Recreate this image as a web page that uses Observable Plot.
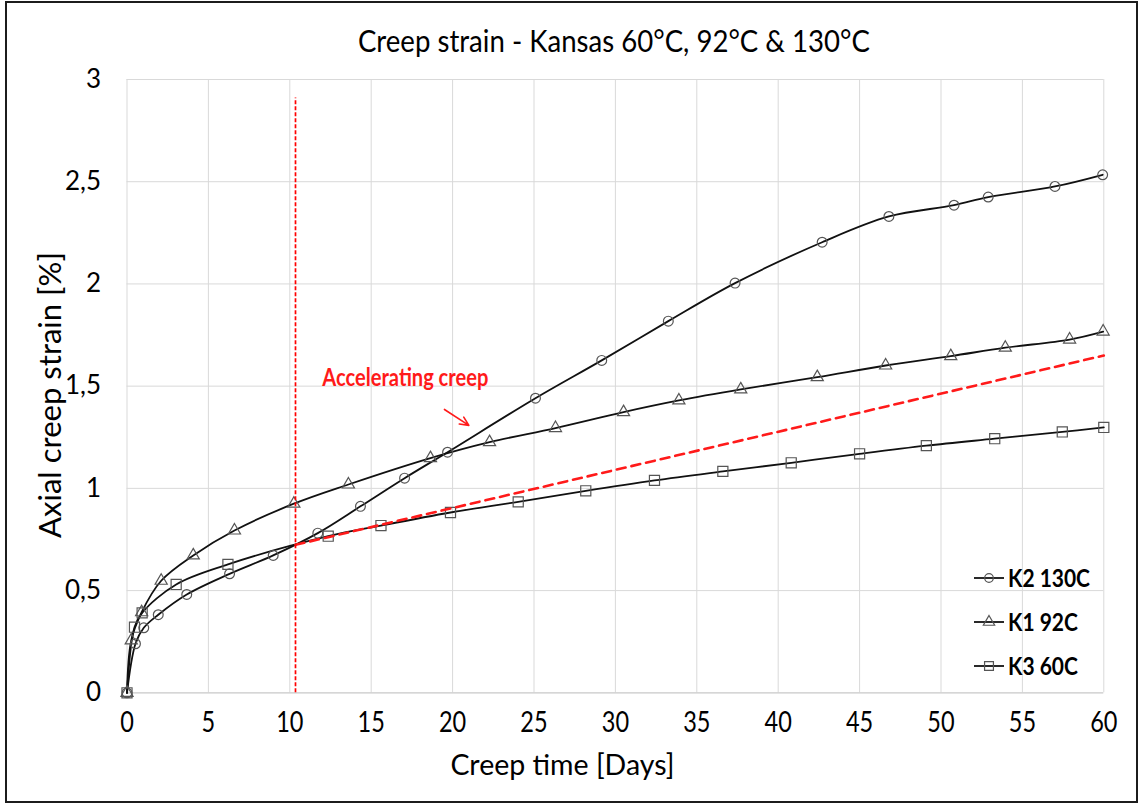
<!DOCTYPE html>
<html>
<head>
<meta charset="utf-8">
<script src="https://cdn.jsdelivr.net/npm/d3@7"></script>
<script src="https://cdn.jsdelivr.net/npm/@observablehq/plot@0.6"></script>
<style>
  html, body { margin: 0; padding: 0; background: #fff; }
  body { width: 1140px; height: 805px; overflow: hidden; position: relative; }
  #frame { position: absolute; left: 5px; top: 1px; width: 1133px; height: 802px; border: 2px solid #1c1c1c; box-sizing: border-box; pointer-events: none; }
  #title { position: absolute; left: 0; top: 0; width: 1228px; height: 60px; text-align: center; line-height: 80px; color: #000; white-space: nowrap; }
  #title span { display: inline-block; transform-origin: 50% 50%; }
  #chart { position: absolute; left: 0; top: 60px; }
  #overlay { position: absolute; left: 0; top: 0; pointer-events: none; }
</style>
</head>
<body>
<div id="title"><span></span></div>
<div id="chart"></div>
<svg id="overlay" width="1140" height="805"></svg>
<div id="frame"></div>
<script>
// ---------- data ----------
const chartTitle = "Creep strain - Kansas 60°C, 92°C & 130°C";
const xLabel = "Creep time [Days]";
const yLabel = "Axial creep strain [%]";
const seriesNames = ["K2 130C", "K1 92C", "K3 60C"];
const seriesSymbols = ["circle", "triangle", "square"];

const k2Days   = [0, 0.52, 1.03, 1.92, 3.67, 6.3, 8.98, 11.72, 14.34, 17.05, 19.69, 25.09, 29.16, 33.25, 37.35, 42.7, 46.8, 50.8, 52.9, 57.0, 59.93];
const k2Strain = [0, 0.24, 0.318, 0.382, 0.481, 0.582, 0.672, 0.781, 0.912, 1.05, 1.177, 1.441, 1.626, 1.818, 2.004, 2.204, 2.33, 2.385, 2.425, 2.477, 2.534];

const k1Days   = [0, 0.26, 0.9, 2.1, 4.07, 6.6, 10.25, 13.6, 18.64, 22.27, 26.32, 30.5, 33.9, 37.7, 42.4, 46.6, 50.6, 53.95, 57.9, 59.96];
const k1Strain = [0, 0.256, 0.394, 0.548, 0.672, 0.794, 0.925, 1.019, 1.148, 1.226, 1.295, 1.373, 1.43, 1.484, 1.544, 1.601, 1.647, 1.688, 1.728, 1.767];

const k3Days   = [0, 0.46, 0.93, 3.02, 6.2, 12.36, 15.6, 19.87, 24.03, 28.18, 32.4, 36.6, 40.8, 45.0, 49.1, 53.3, 57.45, 60];
const k3Strain = [0, 0.321, 0.391, 0.53, 0.628, 0.766, 0.818, 0.882, 0.934, 0.988, 1.039, 1.083, 1.125, 1.169, 1.209, 1.243, 1.276, 1.298];

const trendDays   = [10.35, 60];
const trendStrain = [0.724, 1.65];

const markerDay = 10.35;
const markerTop = 2.91;

const noteText = "Accelerating creep";
const noteDay = 12.0, noteStrain = 1.54;
const arrowDays = [19.5, 21.0];
const arrowStrains = [1.386, 1.308];

const xTicks = [0, 5, 10, 15, 20, 25, 30, 35, 40, 45, 50, 55, 60];
const yTicks = [0, 0.5, 1, 1.5, 2, 2.5, 3];
const yTickLabels = ["0", "0,5", "1", "1,5", "2", "2,5", "3"];

// ---------- tables ----------
const table = (xs, ys) => xs.map((d, i) => ({day: d, strain: ys[i]}));
const k2 = table(k2Days, k2Strain);
const k1 = table(k1Days, k1Strain);
const k3 = table(k3Days, k3Strain);
const trend = table(trendDays, trendStrain);
const seriesData = [k2, k1, k3];

// ---------- fonts ----------
const FAM = 'Lato, sans-serif';
const ctx = document.createElement("canvas").getContext("2d");
function natural(text, size, weight = "normal") {
  ctx.font = `${weight} ${size}px ${FAM}`;
  return ctx.measureText(text).width;
}
// sizes chosen for glyph height; widths squeezed to the reference's narrow face
const fsTitle = 30.5, wTitle = 512;
const fsXTick = 28, xTickSqueeze = 0.84;
const fsYTick = 26;
const fsXLabel = 29.5, wXLabel = 224;
const fsYLabel = 31.5, wYLabel = 286;
const fsLegend = 24, wLegend = 82;
const fsNote = 24, wNote = 166;

const titleSpan = document.querySelector("#title span");
titleSpan.textContent = chartTitle;
titleSpan.style.fontFamily = FAM;
titleSpan.style.fontSize = fsTitle + "px";
titleSpan.style.transform = `scaleX(${wTitle / natural(chartTitle, fsTitle)})`;

// ---------- chart ----------
const LINE = "#111";
const MARK = "#555";
const RED = "#ff1a1a";
const plot = Plot.plot({
  width: 1140,
  height: 745,
  marginLeft: 126.5,
  marginRight: 36.7,
  marginTop: 19,
  marginBottom: 112.7,
  style: {fontFamily: FAM, background: "transparent", color: "#000", overflow: "visible"},
  x: {domain: [0, 60]},
  y: {domain: [0, 3]},
  marks: [
    Plot.gridX(xTicks, {stroke: "#d9d9d9", strokeOpacity: 1, strokeWidth: 1}),
    Plot.gridY(yTicks.slice(1), {stroke: "#d9d9d9", strokeOpacity: 1, strokeWidth: 1}),
    Plot.ruleY([0], {stroke: "#c8c8c8", strokeWidth: 1.3}),
    Plot.axisX(xTicks, {tickSize: 0, tickPadding: 19, fontSize: fsXTick, label: null, fill: "#000", className: "xtick"}),
    Plot.axisY(yTicks, {tickSize: 0, tickPadding: 26, fontSize: fsYTick, label: null, fill: "#000",
      tickFormat: d => yTickLabels[yTicks.indexOf(d)]}),
    Plot.text([xLabel], {frameAnchor: "bottom", dy: 82, dx: -53, fontSize: fsXLabel, fill: "#000", className: "xlabel"}),
    ...seriesData.map(s => Plot.line(s, {x: "day", y: "strain", stroke: LINE, strokeWidth: 1.8, curve: "catmull-rom"})),
    Plot.dot(k2, {x: "day", y: "strain", symbol: "circle", r: 4.9, stroke: MARK, fill: "none", strokeWidth: 1.2}),
    Plot.dot(k1, {x: "day", y: "strain", symbol: "triangle", r: 4.5, stroke: MARK, fill: "none", strokeWidth: 1.2}),
    Plot.dot(k3, {x: "day", y: "strain", symbol: "square", r: 5.7, stroke: MARK, fill: "none", strokeWidth: 1.2}),
    Plot.line(trend, {x: "day", y: "strain", stroke: RED, strokeWidth: 2.6, strokeDasharray: "9,6"}),
    Plot.ruleX([markerDay], {y1: 0, y2: markerTop, stroke: "#ff0000", strokeWidth: 1.7, strokeDasharray: "4,2"}),
    Plot.text([noteText], {x: noteDay, y: noteStrain, textAnchor: "start", fontSize: fsNote, fontWeight: "bold", fill: RED, className: "note"}),
    Plot.arrow([0], {x1: arrowDays[0], y1: arrowStrains[0], x2: arrowDays[1], y2: arrowStrains[1], stroke: RED, strokeWidth: 1.6, headLength: 11, headAngle: 50, bend: 0})
  ]
});
document.getElementById("chart").appendChild(plot);

// squeeze text horizontally to emulate the narrow face of the reference
const svg = d3.select(plot);
svg.selectAll(".xtick text").each(function() {
  d3.select(this).attr("textLength", natural(this.textContent, fsXTick) * xTickSqueeze).attr("lengthAdjust", "spacingAndGlyphs");
});
svg.selectAll(".xlabel text").attr("textLength", wXLabel).attr("lengthAdjust", "spacingAndGlyphs");
svg.selectAll(".note text").attr("textLength", wNote).attr("lengthAdjust", "spacingAndGlyphs");

// ---------- overlay: y-axis title and legend ----------
const ov = d3.select("#overlay");
ov.append("text")
  .attr("transform", "translate(50,395) rotate(-90)")
  .attr("text-anchor", "middle").attr("dy", "0.35em")
  .attr("textLength", wYLabel).attr("lengthAdjust", "spacingAndGlyphs")
  .style("font-family", FAM).style("font-size", fsYLabel + "px").attr("fill", "#000")
  .text(yLabel);

const legX = 974, legRowY = [578, 622, 666];
seriesNames.forEach((name, i) => {
  const g = ov.append("g").attr("transform", `translate(${legX},${legRowY[i]})`);
  g.append("line").attr("x1", 0).attr("x2", 30).attr("y1", 0).attr("y2", 0).attr("stroke", LINE).attr("stroke-width", 1.8);
  const sym = {circle: d3.symbolCircle, triangle: d3.symbolTriangle, square: d3.symbolSquare}[seriesSymbols[i]];
  const r = [4.3, 4.2, 5][i];
  g.append("path").attr("transform", "translate(15,0)").attr("d", d3.symbol(sym, Math.PI * r * r)())
    .attr("fill", "none").attr("stroke", MARK).attr("stroke-width", 1.2);
  g.append("text").attr("x", 34).attr("y", 0).attr("dy", "0.36em").text(name)
    .attr("textLength", wLegend * natural(name, fsLegend, "bold") / natural(seriesNames[0], fsLegend, "bold"))
    .attr("lengthAdjust", "spacingAndGlyphs")
    .style("font-family", FAM).style("font-weight", "bold").style("font-size", fsLegend + "px").attr("fill", "#000");
});
</script>
</body>
</html>
